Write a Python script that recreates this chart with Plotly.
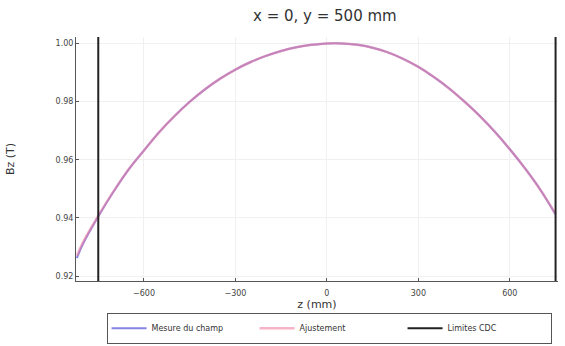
import plotly.graph_objects as go

# Data
z_mm = [-820, -800, -750, -700, -650, -600, -550, -500, -450, -400, -350, -300,
        -250, -200, -150, -100, -50, 0, 50, 100, 150, 200, 250, 300, 350, 400,
        450, 500, 550, 600, 650, 700, 750]
bz_mesure = [0.9262, 0.9311, 0.9405, 0.9490, 0.9567, 0.9632, 0.9695, 0.9750,
             0.9799, 0.9842, 0.9879, 0.9910, 0.9936, 0.9957, 0.9974, 0.9987,
             0.9995, 1.0000, 1.0000, 0.9995, 0.9985, 0.9969, 0.9947, 0.9919,
             0.9885, 0.9846, 0.9801, 0.9752, 0.9697, 0.9636, 0.9570, 0.9497, 0.9412]
bz_ajust = [0.9270, 0.9316, 0.9407, 0.9491, 0.9567, 0.9632, 0.9695, 0.9750,
            0.9799, 0.9842, 0.9879, 0.9910, 0.9936, 0.9957, 0.9974, 0.9987,
            0.9995, 1.0000, 1.0000, 0.9995, 0.9985, 0.9969, 0.9947, 0.9919,
            0.9885, 0.9846, 0.9801, 0.9752, 0.9697, 0.9636, 0.9570, 0.9497, 0.9414]
cdc_limits = [-750, 750]
x_ticks = [-600, -300, 0, 300, 600]
y_ticks = [0.92, 0.94, 0.96, 0.98, 1.00]
x_range = [-823, 758]
y_range = [0.9183, 1.0022]

fig = go.Figure()
fig.add_trace(go.Scatter(x=z_mm, y=bz_mesure, mode="lines", name="Mesure du champ",
                         line=dict(color="#8585e6", width=2, shape="spline")))
fig.add_trace(go.Scatter(x=z_mm, y=bz_ajust, mode="lines", name="Ajustement",
                         line=dict(color="rgba(240,130,160,0.6)", width=2.5, shape="spline")))
for i, zc in enumerate(cdc_limits):
    fig.add_trace(go.Scatter(x=[zc, zc], y=y_range, mode="lines", name="Limites CDC",
                             showlegend=(i == 0), legendgroup="cdc",
                             line=dict(color="#222222", width=2)))

fig.update_layout(
    width=565, height=346,
    margin=dict(l=76, r=7, t=37, b=65, autoexpand=False),
    paper_bgcolor="white", plot_bgcolor="white",
    font=dict(family="DejaVu Sans", color="#333333"),
    title=dict(text="x = 0, y = 500 mm", x=0.575, xanchor="center", y=0.955, yanchor="middle",
               font=dict(size=15, color="#333333")),
    showlegend=True,
    legend=dict(orientation="h", x=0.525, xanchor="center", y=-0.13, yanchor="top",
                bordercolor="#555555", borderwidth=1, font=dict(size=8),
                entrywidth=98, entrywidthmode="pixels", tracegroupgap=0,
                itemwidth=35),
)
fig.update_xaxes(range=x_range, tickvals=x_ticks, ticktext=["\u2212600", "\u2212300", "0", "300", "600"],
                 showgrid=True, gridcolor="#f0f0f0", zeroline=False,
                 showline=True, linecolor="#555555", linewidth=1, mirror=False,
                 ticks="inside", ticklen=3, tickcolor="#555555", ticklabelstandoff=4,
                 tickfont=dict(size=8, color="#444444"),
                 title=dict(text="z (mm)", font=dict(size=11), standoff=2))
fig.update_yaxes(range=y_range, tickvals=y_ticks, ticktext=["0.92", "0.94", "0.96", "0.98", "1.00"],
                 showgrid=True, gridcolor="#f0f0f0", zeroline=False,
                 showline=True, linecolor="#555555", linewidth=1, mirror=False,
                 ticks="inside", ticklen=3, tickcolor="#555555",
                 tickfont=dict(size=8, color="#444444"),
                 title=dict(text="Bz (T)", font=dict(size=11), standoff=38))

fig.write_html("out.html")
